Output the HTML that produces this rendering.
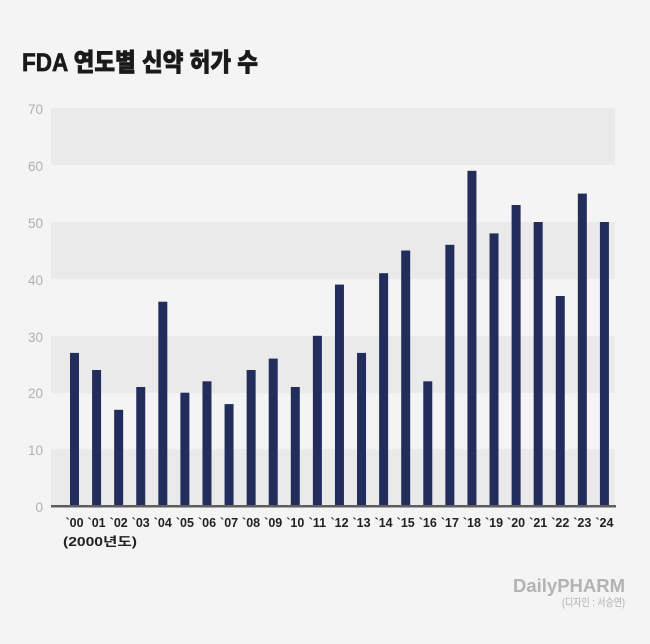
<!DOCTYPE html>
<html><head><meta charset="utf-8"><style>
html,body{margin:0;padding:0;background:#f4f4f4;}
svg{display:block;}
</style></head><body>
<svg width="650" height="644" viewBox="0 0 650 644" xmlns="http://www.w3.org/2000/svg">
<rect x="0" y="0" width="650" height="644" fill="#f4f4f4"/>
<text x="22" y="71" font-family="'Liberation Sans','Noto Sans CJK KR',sans-serif" font-weight="900" font-size="25" fill="#1a1a1a" stroke="#1a1a1a" stroke-width="0.7" textLength="236" lengthAdjust="spacingAndGlyphs">FDA 연도별 신약 허가 수</text>
<!-- bands -->
<rect x="51" y="108" width="564" height="57" fill="#eaeaea"/>
<rect x="51" y="222" width="564" height="57" fill="#eaeaea"/>
<rect x="51" y="336" width="564" height="57" fill="#eaeaea"/>
<rect x="51" y="449" width="564" height="57" fill="#eaeaea"/>
<!-- y labels -->
<g font-family="'Liberation Sans',sans-serif" font-size="13.5" fill="#b0b0b0" text-anchor="end">
<text x="43" y="114">70</text>
<text x="43" y="171">60</text>
<text x="43" y="228">50</text>
<text x="43" y="285">40</text>
<text x="43" y="342">30</text>
<text x="43" y="398">20</text>
<text x="43" y="455">10</text>
<text x="43" y="512">0</text>
</g>
<!-- bars -->
<g fill="#222d5c">
<rect x="70.00" y="352.9" width="9" height="152.1"/>
<rect x="92.08" y="370.0" width="9" height="135.0"/>
<rect x="114.16" y="409.8" width="9" height="95.2"/>
<rect x="136.24" y="387.0" width="9" height="118.0"/>
<rect x="158.32" y="301.7" width="9" height="203.3"/>
<rect x="180.40" y="392.7" width="9" height="112.3"/>
<rect x="202.48" y="381.3" width="9" height="123.7"/>
<rect x="224.56" y="404.1" width="9" height="100.9"/>
<rect x="246.64" y="370.0" width="9" height="135.0"/>
<rect x="268.72" y="358.6" width="9" height="146.4"/>
<rect x="290.80" y="387.0" width="9" height="118.0"/>
<rect x="312.88" y="335.8" width="9" height="169.2"/>
<rect x="334.96" y="284.6" width="9" height="220.4"/>
<rect x="357.04" y="352.9" width="9" height="152.1"/>
<rect x="379.12" y="273.2" width="9" height="231.8"/>
<rect x="401.20" y="250.5" width="9" height="254.5"/>
<rect x="423.28" y="381.3" width="9" height="123.7"/>
<rect x="445.36" y="244.8" width="9" height="260.2"/>
<rect x="467.44" y="170.8" width="9" height="334.2"/>
<rect x="489.52" y="233.4" width="9" height="271.6"/>
<rect x="511.60" y="205.0" width="9" height="300.0"/>
<rect x="533.68" y="222.0" width="9" height="283.0"/>
<rect x="555.76" y="296.0" width="9" height="209.0"/>
<rect x="577.84" y="193.6" width="9" height="311.4"/>
<rect x="599.92" y="222.0" width="9" height="283.0"/>
</g>
<!-- axis -->
<rect x="51" y="505" width="565" height="2.5" fill="#5e5e5e"/>
<!-- x labels -->
<g font-family="'Liberation Sans',sans-serif" font-weight="bold" font-size="12.5" fill="#222" text-anchor="middle">
<text x="74.5" y="527">`00</text>
<text x="96.6" y="527">`01</text>
<text x="118.7" y="527">`02</text>
<text x="140.7" y="527">`03</text>
<text x="162.8" y="527">`04</text>
<text x="184.9" y="527">`05</text>
<text x="207.0" y="527">`06</text>
<text x="229.1" y="527">`07</text>
<text x="251.1" y="527">`08</text>
<text x="273.2" y="527">`09</text>
<text x="295.3" y="527">`10</text>
<text x="317.4" y="527">`11</text>
<text x="339.5" y="527">`12</text>
<text x="361.5" y="527">`13</text>
<text x="383.6" y="527">`14</text>
<text x="405.7" y="527">`15</text>
<text x="427.8" y="527">`16</text>
<text x="449.9" y="527">`17</text>
<text x="471.9" y="527">`18</text>
<text x="494.0" y="527">`19</text>
<text x="516.1" y="527">`20</text>
<text x="538.2" y="527">`21</text>
<text x="560.3" y="527">`22</text>
<text x="582.3" y="527">`23</text>
<text x="604.4" y="527">`24</text>
</g>
<text x="63" y="546" font-family="'Liberation Sans','Noto Sans CJK KR',sans-serif" font-weight="bold" font-size="12.5" fill="#222" textLength="74" lengthAdjust="spacingAndGlyphs">(2000년도)</text>
<!-- logo -->
<text x="513" y="592" font-family="'Liberation Sans',sans-serif" font-weight="bold" font-size="18" fill="#b3b3b3" textLength="112" lengthAdjust="spacingAndGlyphs">DailyPHARM</text>
<text x="562" y="606" font-family="'Liberation Sans','Noto Sans CJK KR',sans-serif" font-size="11" fill="#b0b0b0" textLength="63" lengthAdjust="spacingAndGlyphs">(디자인 : 서승연)</text>
</svg>
</body></html>
